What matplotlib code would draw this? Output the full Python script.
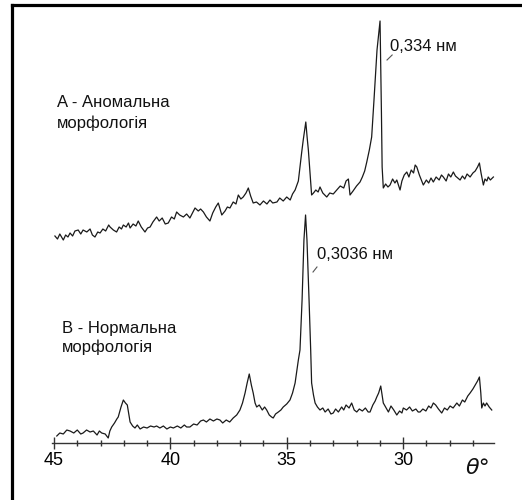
import numpy as np
import matplotlib.pyplot as plt
from matplotlib.lines import Line2D

# diffraction angle (deg) and intensity (arbitrary units, axis at 0)
# A - anomalous morphology
theta_a = [44.96, 44.85, 44.75, 44.60, 44.50, 44.40, 44.31, 44.20, 44.10, 43.96,
           43.85, 43.75, 43.59, 43.45, 43.35, 43.24, 43.12, 43.02, 42.90, 42.78,
           42.65, 42.59, 42.45, 42.31, 42.20, 42.10, 42.02, 41.90, 41.80, 41.73,
           41.60, 41.48, 41.38, 41.25, 41.09, 40.98, 40.87, 40.75, 40.59, 40.48,
           40.35, 40.22, 40.09, 39.95, 39.83, 39.73, 39.60, 39.44, 39.30, 39.16,
           39.05, 38.94, 38.80, 38.70, 38.58, 38.45, 38.30, 38.18, 38.05, 37.94,
           37.85, 37.79, 37.65, 37.55, 37.44, 37.30, 37.18, 37.08, 36.97, 36.87,
           36.75, 36.65, 36.55, 36.44, 36.30, 36.15, 36.00, 35.85, 35.72, 35.60,
           35.42, 35.30, 35.15, 35.00, 34.85, 34.75, 34.64, 34.50, 34.43, 34.36,
           34.29, 34.18, 34.12, 34.07, 34.00, 33.93, 33.85, 33.75, 33.65, 33.57,
           33.45, 33.28, 33.15, 33.00, 32.85, 32.70, 32.55, 32.45, 32.35, 32.28,
           32.15, 32.00, 31.85, 31.75, 31.65, 31.56, 31.45, 31.35, 31.25, 31.12,
           30.99, 30.93, 30.90, 30.85, 30.75, 30.65, 30.56, 30.45, 30.35, 30.27,
           30.20, 30.13, 30.05, 29.95, 29.84, 29.75, 29.65, 29.55, 29.48, 29.41,
           29.30, 29.20, 29.13, 29.00, 28.90, 28.80, 28.70, 28.58, 28.45, 28.35,
           28.27, 28.15, 28.05, 27.95, 27.84, 27.75, 27.65, 27.55, 27.45, 27.35,
           27.25, 27.12, 27.00, 26.90, 26.80, 26.72, 26.65, 26.55, 26.48, 26.40,
           26.34, 26.25, 26.12]
int_a = [207, 204, 209, 203, 208, 206, 210, 207, 212, 213,
         209, 213, 211, 214, 208, 206, 211, 210, 214, 212,
         218, 216, 213, 211, 216, 214, 218, 216, 220, 215,
         219, 217, 222, 216, 211, 215, 216, 221, 226, 222,
         225, 219, 220, 226, 224, 231, 228, 226, 229, 225,
         230, 235, 232, 234, 231, 226, 222, 230, 236, 240,
         233, 228, 232, 236, 235, 241, 239, 248, 244, 246,
         250, 255, 247, 240, 241, 238, 242, 239, 243, 240,
         241, 245, 242, 246, 243, 249, 253, 262, 276, 290,
         303, 321, 305, 293, 270, 248, 250, 253, 251, 256,
         250, 246, 250, 249, 253, 257, 255, 262, 264, 248,
         252, 257, 261, 266, 272, 281, 293, 306, 343, 393,
         422, 330, 276, 255, 259, 256, 258, 264, 260, 263,
         258, 253, 262, 268, 271, 266, 273, 270, 278, 276,
         268, 262, 258, 263, 260, 265, 261, 266, 263, 268,
         266, 262, 269, 266, 271, 267, 265, 263, 267, 264,
         269, 266, 270, 272, 276, 280, 270, 258, 264, 262,
         266, 263, 266]

# B - normal morphology
theta_b = [44.88, 44.75, 44.60, 44.45, 44.31, 44.15, 44.00, 43.85, 43.75, 43.60,
           43.45, 43.31, 43.15, 43.05, 42.95, 42.80, 42.67, 42.60, 42.52, 42.40,
           42.30, 42.24, 42.12, 42.02, 41.93, 41.85, 41.78, 41.73, 41.62, 41.52,
           41.42, 41.30, 41.15, 41.00, 40.85, 40.70, 40.59, 40.45, 40.30, 40.15,
           40.00, 39.87, 39.70, 39.55, 39.40, 39.30, 39.16, 39.00, 38.85, 38.70,
           38.58, 38.45, 38.30, 38.15, 38.00, 37.87, 37.75, 37.60, 37.45, 37.30,
           37.15, 37.01, 36.90, 36.79, 36.70, 36.61, 36.52, 36.44, 36.36, 36.29,
           36.18, 36.05, 35.95, 35.86, 35.75, 35.65, 35.58, 35.48, 35.36, 35.25,
           35.15, 35.00, 34.86, 34.75, 34.64, 34.50, 34.43, 34.34, 34.26, 34.19,
           34.13, 34.04, 33.97, 33.93, 33.85, 33.78, 33.68, 33.57, 33.45, 33.35,
           33.22, 33.10, 33.00, 32.90, 32.78, 32.64, 32.55, 32.45, 32.32, 32.21,
           32.10, 31.99, 31.88, 31.75, 31.62, 31.50, 31.42, 31.30, 31.20, 31.13,
           31.05, 30.96, 30.90, 30.85, 30.75, 30.63, 30.52, 30.40, 30.27, 30.15,
           30.05, 29.99, 29.85, 29.72, 29.60, 29.45, 29.35, 29.27, 29.15, 29.02,
           28.90, 28.80, 28.70, 28.60, 28.48, 28.34, 28.22, 28.10, 27.98, 27.85,
           27.69, 27.58, 27.45, 27.35, 27.22, 27.12, 27.00, 26.90, 26.80, 26.72,
           26.66, 26.62, 26.55, 26.48, 26.41, 26.30, 26.19]
int_b = [7, 10, 9, 13, 12, 10, 13, 9, 10, 13,
         11, 12, 8, 12, 10, 9, 5, 12, 16, 20,
         24, 26, 36, 43, 40, 38, 28, 21, 17, 15,
         18, 14, 16, 15, 17, 16, 17, 15, 17, 14,
         16, 15, 17, 15, 18, 16, 16, 19, 18, 22,
         23, 21, 24, 22, 24, 23, 20, 23, 21, 25,
         28, 33, 40, 50, 60, 69, 58, 50, 40, 36,
         38, 33, 36, 33, 28, 26, 25, 29, 31, 33,
         36, 39, 43, 50, 60, 83, 93, 143, 203, 228,
         203, 143, 93, 60, 48, 40, 36, 33, 35, 31,
         34, 29, 30, 34, 31, 36, 33, 38, 35, 40,
         33, 31, 34, 32, 35, 31, 31, 38, 42, 46,
         50, 57, 48, 40, 36, 31, 37, 33, 28, 32,
         30, 35, 33, 36, 32, 34, 31, 31, 34, 32,
         37, 35, 40, 38, 34, 30, 35, 33, 37, 35,
         40, 37, 43, 41, 47, 50, 54, 58, 62, 66,
         50, 35, 40, 37, 40, 36, 33]

major_ticks = [45, 40, 35, 30]
minor_ticks = list(range(27, 45))

fig = plt.figure(figsize=(5.22, 5.0), dpi=100)
ax = fig.add_axes([0, 0, 1, 1])
ax.set_xlim(47.32, 24.89)
ax.set_ylim(-57, 443)

ax.plot(theta_a, int_a, color="#1a1a1a", lw=0.9)
ax.plot(theta_b, int_b, color="#1a1a1a", lw=0.9)

# axis
for s in ["top", "left", "right"]:
    ax.spines[s].set_visible(False)
ax.spines["bottom"].set_position(("data", 0))
ax.spines["bottom"].set_bounds(45.1, 26.1)
ax.spines["bottom"].set_color("#333333")
ax.spines["bottom"].set_linewidth(1.0)
ax.set_yticks([])
ax.set_xticks(major_ticks)
ax.set_xticks(minor_ticks, minor=True)
ax.tick_params(axis="x", which="major", direction="inout", length=9, width=1,
               color="#333333", labelsize=13, pad=2)
ax.tick_params(axis="x", which="minor", direction="inout", length=5, width=1,
               color="#333333")
for lab in ax.get_xticklabels():
    lab.set_fontfamily("Liberation Sans")

ax.text(26.78, -25, "θ°", fontsize=16, style="italic", ha="center", va="center",
        color="#111111")

fnt = dict(fontsize=12, family="Liberation Sans", color="#111111", va="baseline")
ax.text(44.87, 336, "A - Аномальна", **fnt)
ax.text(44.87, 315, "морфологія", **fnt)
ax.text(44.66, 110, "B - Нормальна", **fnt)
ax.text(44.66, 91, "морфологія", **fnt)
ax.text(30.56, 392, "0,334 нм", **fnt)
ax.text(33.70, 184, "0,3036 нм", **fnt)
ax.plot([30.69, 30.47], [383, 388], color="#555555", lw=0.8)
ax.plot([33.87, 33.70], [171, 176], color="#555555", lw=0.8)

# frame of the scanned figure
fig.add_artist(Line2D([0.0234, 0.0234], [0, 0.99], color="black", lw=2.3))
fig.add_artist(Line2D([0.0234, 1.0], [0.99, 0.99], color="black", lw=2.3))

fig.savefig("out.png", dpi=100)
